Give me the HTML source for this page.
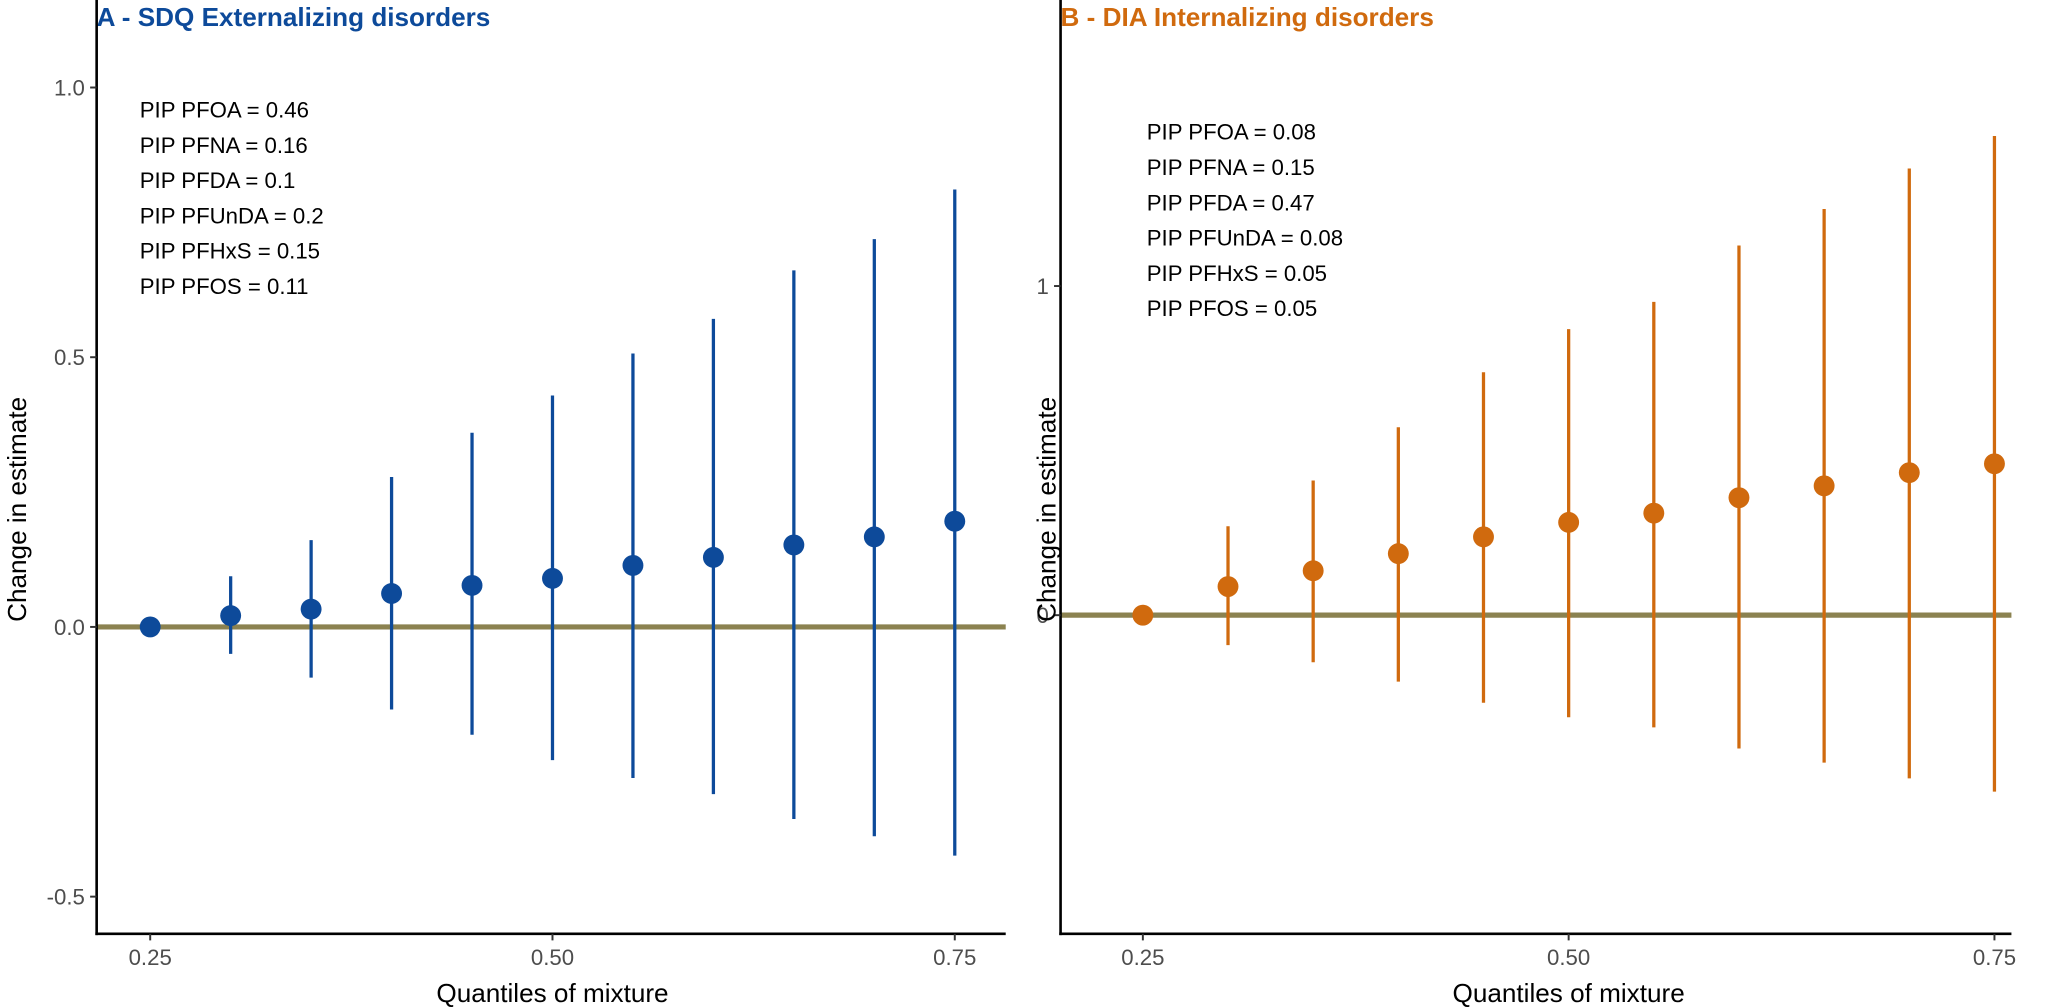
<!DOCTYPE html>
<html><head><meta charset="utf-8">
<style>
html,body{margin:0;padding:0;background:#fff;overflow:hidden;width:100%;height:100%;}
svg{display:block;font-family:"Liberation Sans",Arial,sans-serif;width:100vw;height:100vh;}
</style></head>
<body>
<svg id="chart" viewBox="0 0 1568 771" preserveAspectRatio="none">
  <text x="74" y="20" font-size="20" font-weight="bold" fill="#0D4A9A">A - SDQ Externalizing disorders</text>
  <text x="812" y="20" font-size="20" font-weight="bold" fill="#D06A0E">B - DIA Internalizing disorders</text>
  <g id="panelA"></g>
  <g id="panelB"></g>
</svg>
<script>
const quantiles = [0.25,0.30,0.35,0.40,0.45,0.50,0.55,0.60,0.65,0.70,0.75];
const xTicks = [0.25,0.50,0.75];
const xTickLabels = ["0.25","0.50","0.75"];

const estA = [0,0.021,0.033,0.062,0.077,0.09,0.114,0.129,0.152,0.167,0.196];
const lowA = [0,-0.05,-0.094,-0.153,-0.2,-0.247,-0.28,-0.31,-0.356,-0.388,-0.424];
const highA = [0,0.094,0.161,0.278,0.36,0.429,0.507,0.571,0.661,0.719,0.811];
const yTicksA = [-0.5,0,0.5,1.0];
const yTickLabelsA = ["-0.5","0.0","0.5","1.0"];
const pipA = ["PIP PFOA = 0.46","PIP PFNA = 0.16","PIP PFDA = 0.1","PIP PFUnDA = 0.2","PIP PFHxS = 0.15","PIP PFOS = 0.11"];

const estB = [0,0.087,0.135,0.187,0.238,0.282,0.31,0.357,0.393,0.433,0.46];
const lowB = [0,-0.091,-0.143,-0.202,-0.266,-0.31,-0.341,-0.405,-0.448,-0.496,-0.536];
const highB = [0,0.27,0.409,0.571,0.738,0.869,0.952,1.123,1.234,1.357,1.456];
const yTicksB = [0,1];
const yTickLabelsB = ["0","1"];
const pipB = ["PIP PFOA = 0.08","PIP PFNA = 0.15","PIP PFDA = 0.47","PIP PFUnDA = 0.08","PIP PFHxS = 0.05","PIP PFOS = 0.05"];

const NS = "http://www.w3.org/2000/svg";
function mk(parent, tag, attrs){
  const e = document.createElementNS(NS, tag);
  for (const k in attrs) e.setAttribute(k, attrs[k]);
  parent.appendChild(e);
  return e;
}

function drawPanel(g, cfg){
  const xScale = v => cfg.x25 + (v - 0.25) / 0.25 * (cfg.x50 - cfg.x25);
  const yScale = v => cfg.y0 - v * cfg.pxPerUnit;

  const zl = mk(g,'line',{x1:cfg.axisX,x2:cfg.right,y1:yScale(0),y2:yScale(0),stroke:'#8B8250','stroke-width':4});
  
  

  cfg.est.forEach((v,i)=>{
    const x = xScale(quantiles[i]);
    const ln = mk(g,'line',{x1:x,x2:x,y1:yScale(cfg.high[i]),y2:yScale(cfg.low[i]),stroke:cfg.color,'stroke-width':2.5});
    
    
    const c = mk(g,'circle',{cx:x,cy:yScale(v),r:8,fill:cfg.color});
    
    
  });

  const ya = mk(g,'line',{x1:cfg.axisX,x2:cfg.axisX,y1:0,y2:cfg.axisY+1,stroke:'#000','stroke-width':2});
  
  
  const xa = mk(g,'line',{x1:cfg.axisX-1,x2:cfg.right,y1:cfg.axisY,y2:cfg.axisY,stroke:'#000','stroke-width':2});
  
  

  cfg.yTicks.forEach((t,i)=>{
    const y = yScale(t);
    const tk = mk(g,'line',{x1:cfg.axisX-5,x2:cfg.axisX,y1:y,y2:y,stroke:'#333','stroke-width':1.5});
    
    
    const tx = mk(g,'text',{x:cfg.axisX-9,y:y+6,'font-size':17,fill:'#4d4d4d','text-anchor':'end'});
    tx.textContent = cfg.yLabels[i];
    
    
  });
  xTicks.forEach((t,i)=>{
    const x = xScale(t);
    const tk = mk(g,'line',{x1:x,x2:x,y1:cfg.axisY,y2:cfg.axisY+5,stroke:'#333','stroke-width':1.5});
    
    
    const tx = mk(g,'text',{x:x,y:cfg.axisY+24,'font-size':17,fill:'#4d4d4d','text-anchor':'middle'});
    tx.textContent = xTickLabels[i];
    
    
  });

  const xt = mk(g,'text',{x:xScale(0.5),y:cfg.axisY+52,'font-size':20,fill:'#000','text-anchor':'middle'});
  xt.textContent = 'Quantiles of mixture';
  
  
  const cy = 390;
  const yt = mk(g,'text',{x:cfg.yTitleX,y:cy,'font-size':20,fill:'#000','text-anchor':'middle',transform:'rotate(-90 '+cfg.yTitleX+' '+cy+')'});
  yt.textContent = 'Change in estimate';
  
  

  cfg.pip.forEach((s,i)=>{
    const tx = mk(g,'text',{x:cfg.pipX,y:cfg.pipY+i*27,'font-size':17,fill:'#000'});
    tx.textContent = s;
    
    
  });
}

drawPanel(document.getElementById('panelA'),{
  x25:115,x50:423,y0:480,pxPerUnit:413,axisX:74,axisY:715,right:770,
  est:estA,low:lowA,high:highA,color:'#0D4A9A',
  yTicks:yTicksA,yLabels:yTickLabelsA,yTitleX:20,pip:pipA,pipX:107,pipY:90
});
drawPanel(document.getElementById('panelB'),{
  x25:875,x50:1201,y0:471,pxPerUnit:252,axisX:812,axisY:715,right:1540,
  est:estB,low:lowB,high:highB,color:'#D06A0E',
  yTicks:yTicksB,yLabels:yTickLabelsB,yTitleX:808,pip:pipB,pipX:878,pipY:107
});
</script>
</body></html>
